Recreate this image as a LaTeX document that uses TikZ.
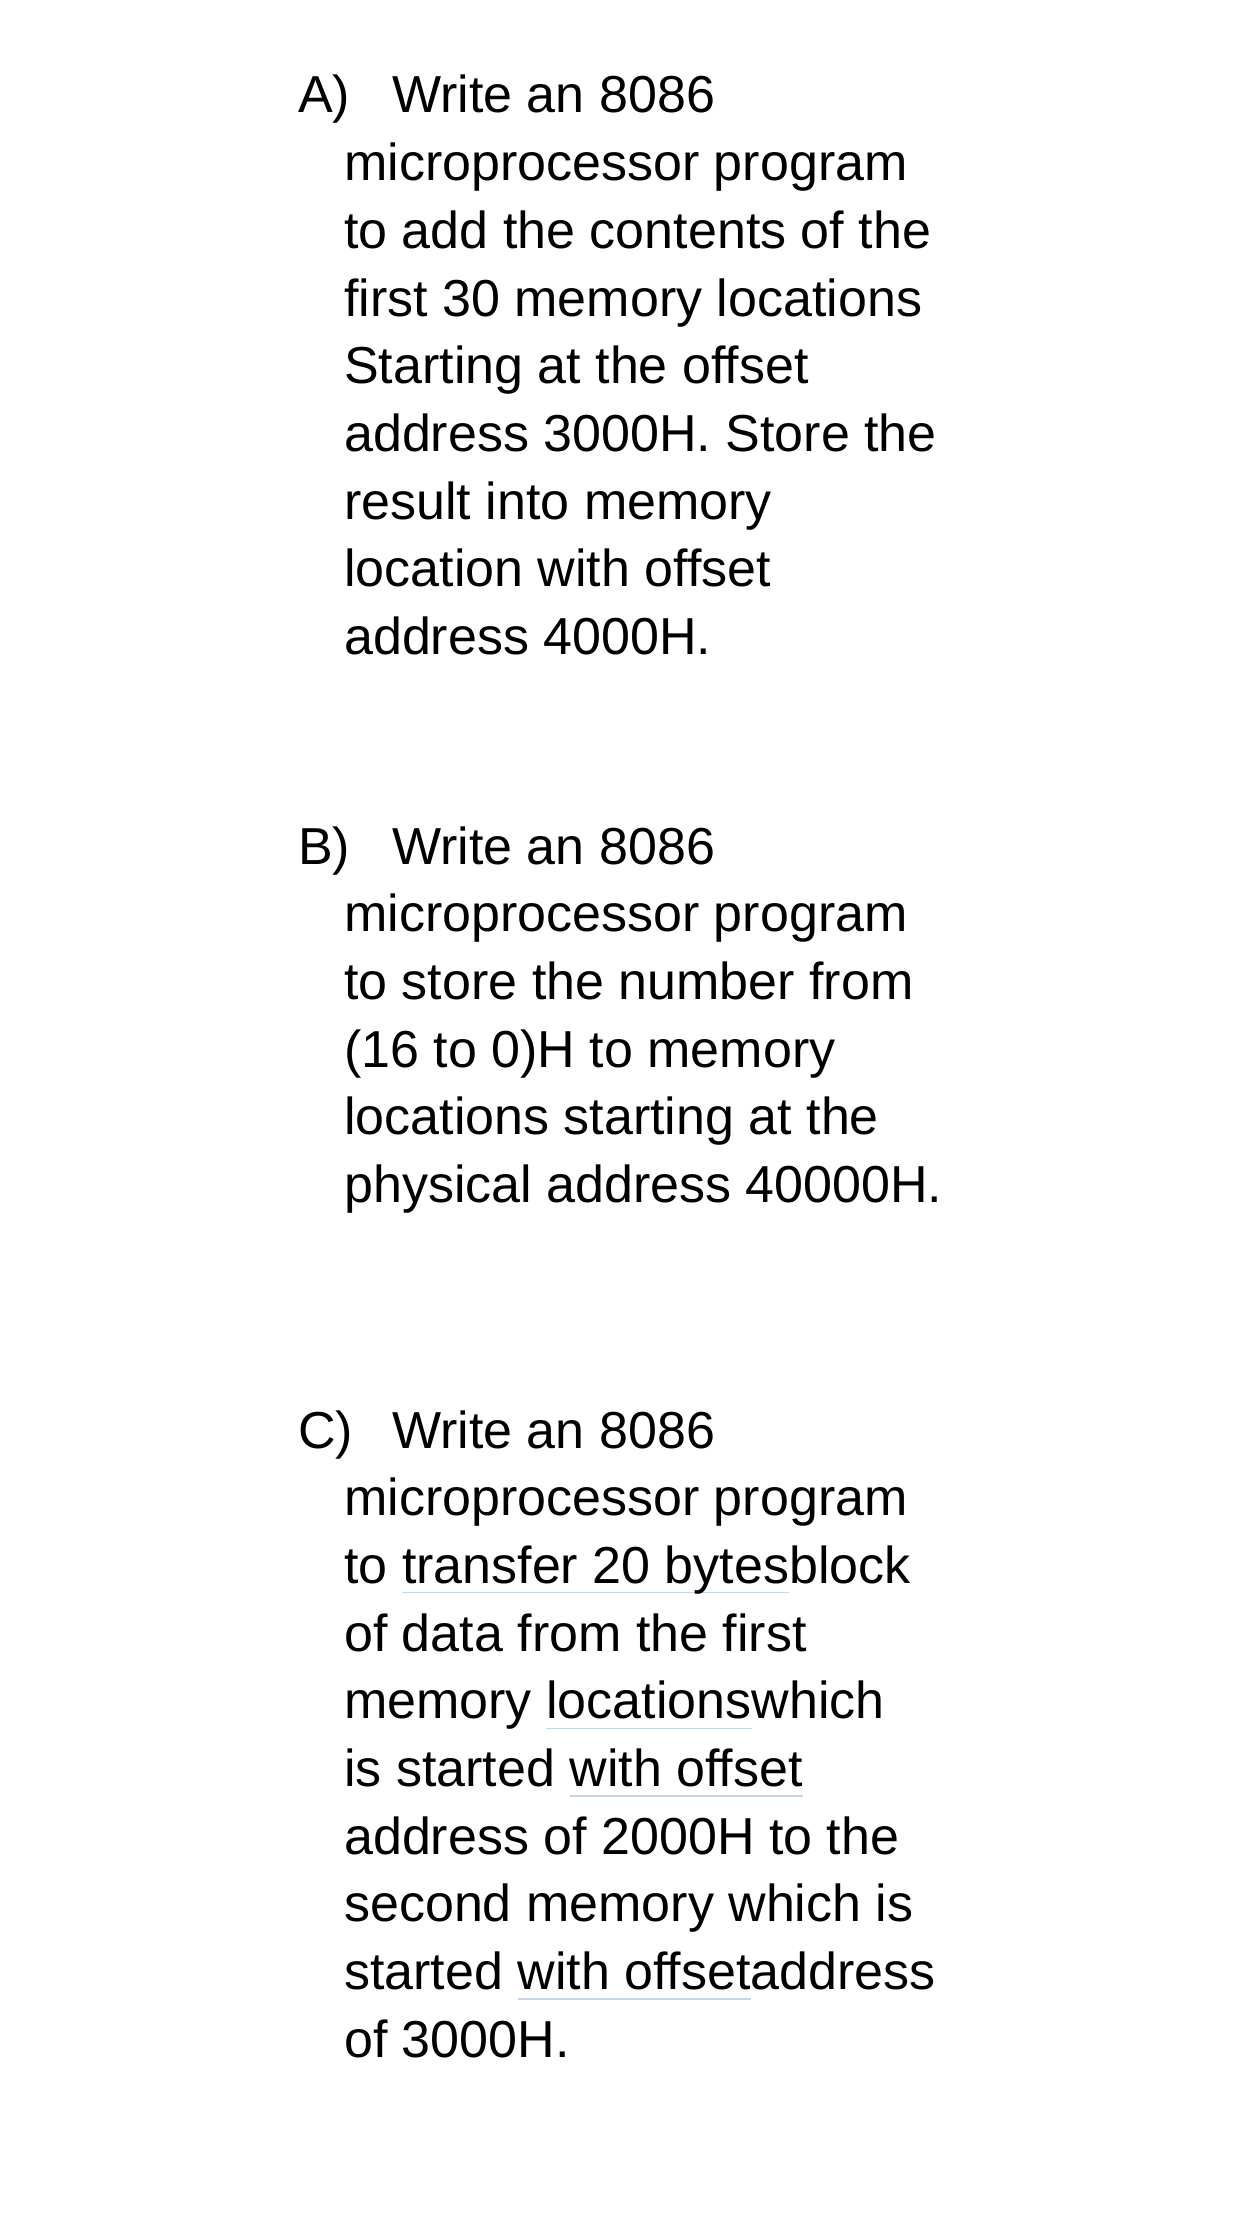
\documentclass[tikz,border=0pt]{standalone}
\usepackage{fontspec}
\setmainfont{Liberation Sans}
\definecolor{ulc}{HTML}{C5D5EE}
\newcommand{\myul}[1]{\setbox0\hbox{#1}\rlap{\textcolor{ulc}{\rule[-10pt]{\wd0}{1.3pt}}}\box0}
\begin{document}
\begin{tikzpicture}[x=1pt,y=-1pt]
\tikzset{ln/.style={anchor=base west,inner sep=0pt,font=\fontsize{52}{62}\selectfont}}
\useasboundingbox (0,0) rectangle (1242,2237);
\fill[white] (0,0) rectangle (1242,2237);
\def\sp{67.7}
% A
\node[ln] (la) at (298,113) {A)};
\node[ln] (a1) at (392,113) {Write an 8086};
\foreach \t [count=\i] in {microprocessor program,to add the contents of the,first 30 memory locations,Starting at the offset,address 3000H. Store the,result into memory,location with offset,address 4000H.}
  \node[ln] (a\i x) at (344,113+\i*\sp) {\t};
% B
\node[ln] (lb) at (298,864) {B)};
\node[ln] (b1) at (392,864) {Write an 8086};
\foreach \t [count=\i] in {microprocessor program,to store the number from,(16 to 0)H to memory,locations starting at the,physical address 40000H.}
  \node[ln] (b\i x) at (344,864+\i*\sp) {\t};
% C
\node[ln] (lc) at (298,1448) {C)};
\node[ln] (c1) at (392,1448) {Write an 8086};
\node[ln] (c2) at (344,1448+1*\sp) {microprocessor program};
\node[ln] (c3) at (344,1448+2*\sp) {to \myul{transfer 20 bytes} block};
\node[ln] (c4) at (344,1448+3*\sp) {of data from the first};
\node[ln] (c5) at (344,1448+4*\sp) {memory \myul{locations} which};
\node[ln] (c6) at (344,1448+5*\sp) {is started \myul{with offset}};
\node[ln] (c7) at (344,1448+6*\sp) {address of 2000H to the};
\node[ln] (c8) at (344,1448+7*\sp) {second memory which is};
\node[ln] (c9) at (344,1448+8*\sp) {started \myul{with offset} address};
\node[ln] (c10) at (344,1448+9*\sp) {of 3000H.};
\end{tikzpicture}
\end{document}
